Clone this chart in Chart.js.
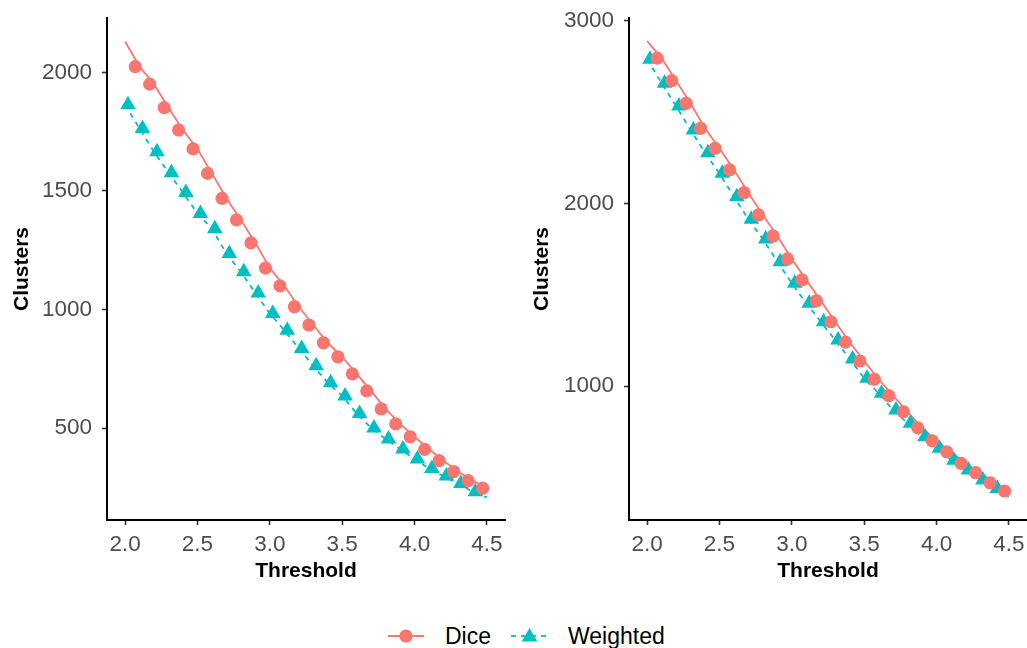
<!DOCTYPE html>
<html>
<head>
<meta charset="utf-8">
<script src="https://cdn.jsdelivr.net/npm/chart.js@4.4.1/dist/chart.umd.min.js"></script>
<style>
  html, body { margin: 0; padding: 0; background: #fff; width: 1027px; height: 648px; overflow: hidden; }
  canvas { position: absolute; top: 0; }
  #leftPanel { left: 0; }
  #rightPanel { left: 520px; }
  .key { position: absolute; top: 626px; }
  .keyText { position: absolute; top: 622px; font: 23px "Liberation Sans", Arial, sans-serif; color: #000; line-height: 28px; white-space: nowrap; }
</style>
</head>
<body>
<canvas id="leftPanel" width="515" height="590"></canvas>
<canvas id="rightPanel" width="507" height="590"></canvas>
<canvas id="keyDice" class="key" width="40" height="20" style="left:386px"></canvas>
<div class="keyText" style="left:445px">Dice</div>
<canvas id="keyWeighted" class="key" width="42" height="20" style="left:509px"></canvas>
<div class="keyText" style="left:568px">Weighted</div>
<script>
// Threshold values shared by both panels
const thresholds = [2.0, 2.1, 2.2, 2.3, 2.4, 2.5, 2.6, 2.7, 2.8, 2.9, 3.0, 3.1, 3.2,
                    3.3, 3.4, 3.5, 3.6, 3.7, 3.8, 3.9, 4.0, 4.1, 4.2, 4.3, 4.4, 4.5];
const xTicks = [2.0, 2.5, 3.0, 3.5, 4.0, 4.5];

// Left panel: number of clusters per threshold
const diceLeft = [2130, 2024, 1950, 1851, 1757, 1677, 1574, 1469, 1378, 1281, 1175, 1100, 1012,
                  935, 860, 801, 729, 657, 581, 518, 464, 411, 363, 317, 279, 247];
const weightedLeft = [1863, 1763, 1665, 1577, 1493, 1405, 1341, 1236, 1159, 1070, 983, 913, 836,
                      763, 692, 636, 562, 501, 454, 412, 370, 330, 298, 267, 232, 208];
const leftYTicks = [500, 1000, 1500, 2000];

// Right panel: number of clusters per threshold
const diceRight = [2890, 2796, 2673, 2549, 2412, 2302, 2184, 2059, 1937, 1822, 1696, 1581, 1467,
                   1352, 1240, 1137, 1037, 947, 859, 771, 700, 640, 576, 525, 470, 425];
const weightedRight = [2790, 2659, 2534, 2403, 2278, 2165, 2037, 1913, 1805, 1681, 1563, 1453, 1352,
                       1252, 1148, 1042, 960, 868, 796, 722, 659, 594, 540, 485, 439, 393];
const rightYTicks = [1000, 2000, 3000];

const RED = '#F8766D';
const TEAL = '#00BFC4';
const FONT = '"Liberation Sans", Arial, sans-serif';

// horizontal dodge of the markers relative to the lines
const diceShift = -0.03;
const weightedShift = 0.02;

function makePanel(canvasId, dice, weighted, yTicks, yMin, yMax, axisWidth, rightPad) {
  const diceMarks = dice.slice(1).map((v, i) => ({ x: thresholds[i + 1] + diceShift, y: v }));
  const weightedMarks = weighted.slice(0, -1).map((v, i) => ({ x: thresholds[i] + weightedShift, y: v }));
  const diceLine = dice.map((v, i) => ({ x: thresholds[i], y: v }));
  const weightedLine = weighted.map((v, i) => ({ x: thresholds[i], y: v }));

  return new Chart(document.getElementById(canvasId), {
    type: 'scatter',
    data: {
      datasets: [
        { label: 'Dice', data: diceMarks, showLine: false, pointStyle: 'circle',
          pointRadius: 6.6, backgroundColor: RED, borderColor: RED, borderWidth: 0, order: 0 },
        { label: 'Weighted', data: weightedMarks, showLine: false, pointStyle: 'triangle',
          pointRadius: 9, backgroundColor: TEAL, borderColor: TEAL, borderWidth: 0, order: 1 },
        { label: 'Dice', data: diceLine, showLine: true, pointRadius: 0,
          borderColor: RED, borderWidth: 1.8, fill: false, order: 2 },
        { label: 'Weighted', data: weightedLine, showLine: true, pointRadius: 0,
          borderColor: TEAL, borderWidth: 1.8, borderDash: [5, 5], fill: false, order: 3 }
      ]
    },
    options: {
      responsive: false,
      animation: false,
      devicePixelRatio: 1,
      layout: { autoPadding: false, padding: { top: 18, right: rightPad, left: 0, bottom: 0 } },
      plugins: { legend: { display: false }, tooltip: { enabled: false } },
      scales: {
        x: {
          type: 'linear', min: 1.875, max: 4.625,
          afterBuildTicks: s => { s.ticks = xTicks.map(v => ({ value: v })); },
          afterFit: s => { s.height = 70; s.paddingLeft = 0; s.paddingRight = 0; },
          ticks: { callback: v => Number(v).toFixed(1), color: '#4d4d4d',
                   font: { family: FONT, size: 22.5 }, padding: 6, maxRotation: 0, autoSkip: false },
          grid: { display: true, drawOnChartArea: false, drawTicks: true, tickLength: 5,
                  tickColor: '#333333', tickWidth: 1.6 },
          border: { display: true, color: '#000000', width: 2 },
          title: { display: true, text: 'Threshold', color: '#000000',
                   font: { family: FONT, size: 21, weight: 'bold' }, padding: { top: 0, bottom: 6 } }
        },
        y: {
          type: 'linear', min: yMin, max: yMax,
          afterBuildTicks: s => { s.ticks = yTicks.map(v => ({ value: v })); },
          afterFit: s => { s.width = axisWidth; s.paddingTop = 0; s.paddingBottom = 0; },
          ticks: { callback: v => String(v), color: '#4d4d4d', font: { family: FONT, size: 22.5 },
                   padding: 10, autoSkip: false },
          grid: { display: true, drawOnChartArea: false, drawTicks: true, tickLength: 5,
                  tickColor: '#333333', tickWidth: 1.6 },
          border: { display: true, color: '#000000', width: 2 },
          title: { display: true, text: 'Clusters', color: '#000000',
                   font: { family: FONT, size: 21, weight: 'bold' }, padding: { top: 10, bottom: 0 } }
        }
      }
    }
  });
}

makePanel('leftPanel', diceLeft, weightedLeft, leftYTicks, 113, 2229, 107, 10);
makePanel('rightPanel', diceRight, weightedRight, rightYTicks, 266, 3016, 109, 0);

// Legend keys
(function () {
  const c1 = document.getElementById('keyDice').getContext('2d');
  c1.strokeStyle = RED; c1.lineWidth = 1.8;
  c1.beginPath(); c1.moveTo(2, 10); c1.lineTo(38, 10); c1.stroke();
  c1.fillStyle = RED; c1.beginPath(); c1.arc(20, 10, 6.6, 0, Math.PI * 2); c1.fill();

  const c2 = document.getElementById('keyWeighted').getContext('2d');
  c2.strokeStyle = TEAL; c2.lineWidth = 1.8; c2.setLineDash([5, 5]);
  c2.beginPath(); c2.moveTo(2, 10); c2.lineTo(40, 10); c2.stroke();
  c2.fillStyle = TEAL; c2.beginPath();
  const r = 9, cx = 20.5, cy = 11;
  c2.moveTo(cx, cy - r);
  c2.lineTo(cx + r * Math.sin(2 * Math.PI / 3), cy - r * Math.cos(2 * Math.PI / 3));
  c2.lineTo(cx + r * Math.sin(4 * Math.PI / 3), cy - r * Math.cos(4 * Math.PI / 3));
  c2.closePath(); c2.fill();
})();
</script>
</body>
</html>
